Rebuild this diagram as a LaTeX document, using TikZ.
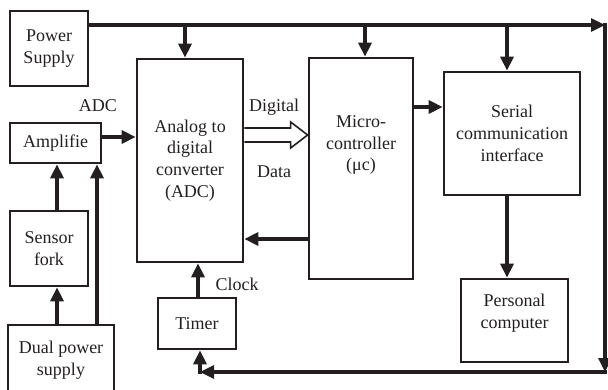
\documentclass[tikz,border=0pt]{standalone}
\usepackage{fontspec}
\setmainfont{Liberation Serif}
\usetikzlibrary{arrows.meta,calc}
\definecolor{ink}{RGB}{35,31,32}
\begin{document}
\begin{tikzpicture}[x=1pt,y=-1pt,
  blk/.style={draw=ink, line width=2.7pt, inner sep=0pt},
  txt/.style={font=\fontsize{18}{21.7}\selectfont, align=center, text=ink},
  arr/.style={draw=ink, line width=3.2pt, -{Triangle[length=14pt,width=13pt]}},
  hollow/.style={draw=ink, line width=1.6pt, line join=miter}]
\useasboundingbox (0,0) rectangle (608,390);

% blocks
\node[blk,txt,minimum width=78pt,minimum height=75pt] (ps) at (49,48.5) {Power\\Supply};
\node[blk,txt,minimum width=91pt,minimum height=40pt] (amp) at (55.5,143) {Amplifie};
\node[blk,txt,minimum width=78pt,minimum height=75pt] (sen) at (49,248.5) {Sensor\\fork};
\node[blk,txt,minimum width=106pt,minimum height=70pt] (dual) at (61,360) {Dual power\\supply};
\node[blk,txt,minimum width=106pt,minimum height=203pt] (adc) at (190,160.5) {Analog to\\digital\\converter\\(ADC)};
\node[blk,minimum width=104pt,minimum height=221pt] (mc) at (361,168.5) {};
\node[txt] (mct) at (361,145) {Micro-\\controller\\(μc)};
\node[blk,txt,minimum width=136pt,minimum height=123pt] (sci) at (512,133.5) {Serial\\communication\\interface};
\node[blk,minimum width=107pt,minimum height=83pt] (pc) at (514.5,320.5) {};
\node[txt] (pct) at (514.5,313.5) {Personal\\computer};
\node[blk,txt,minimum width=78pt,minimum height=51pt] (tim) at (197,323.5) {Timer};

% labels
\node[txt] (ladc) at (98,106) {ADC};
\node[txt] (ldig) at (274,107) {Digital};
\node[txt] (ldat) at (274,172) {Data};
\node[txt] (lclk) at (237,284) {Clock};

% power bus
\coordinate (b0) at (ps.east |- 0,25);
\coordinate (r1) at (605,25);
\coordinate (r2) at (605,372);
\coordinate (r3) at (200,372);
\coordinate (t1) at (185,25);
\coordinate (t2) at (365,25);
\coordinate (t3) at (507,25);
\draw[arr] (b0) -- (r1);
\draw[arr] ([yshift=1.6pt]r1) -- (r2);
\draw[arr] ([xshift=1.6pt]r2) -- (r3);
\draw[arr] ([yshift=-1.6pt]r3) -- (r3 |- tim.south);
\draw[arr] (t1) -- (t1 |- adc.north);
\draw[arr] (t2) -- (t2 |- mc.north);
\draw[arr] (t3) -- (t3 |- sci.north);

% signal path
\coordinate (a1) at (amp.east |- 0,137);
\draw[arr] (a1) -- (a1 -| adc.west);
\coordinate (s1) at (57,0);
\draw[arr] (s1 |- sen.north) -- (s1 |- amp.south);
\draw[arr] (s1 |- dual.north) -- (s1 |- sen.south);
\coordinate (s2) at (97,0);
\draw[arr] (s2 |- dual.north) -- (s2 |- amp.south);
\coordinate (c1) at (198,0);
\draw[arr] (c1 |- tim.north) -- (c1 |- adc.south);
\coordinate (m1) at (mc.west |- 0,239);
\draw[arr] (m1) -- (m1 -| adc.east);
\coordinate (m2) at (mc.east |- 0,107);
\draw[arr] (m2) -- (m2 -| sci.west);
\draw[arr] (t3 |- sci.south) -- (t3 |- pc.north);

% digital data bus (hollow arrow)
\coordinate (dg) at (adc.east |- 0,135);
\coordinate (dt) at (mc.west |- dg);
\draw[hollow] ($(dg)+(0,-7)$) -- ($(dt)+(-17,-7)$) -- ($(dt)+(-17,-13)$)
  -- (dt) -- ($(dt)+(-17,13)$) -- ($(dt)+(-17,7)$) -- ($(dg)+(0,7)$);
\end{tikzpicture}
\end{document}
